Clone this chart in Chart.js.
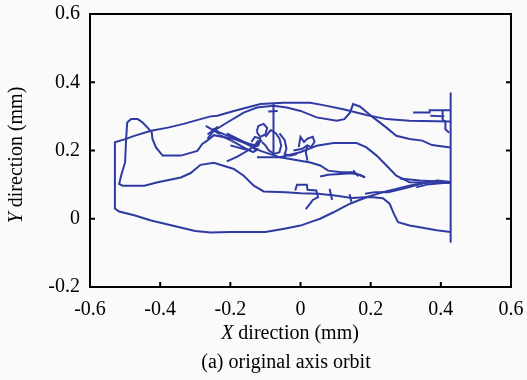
<!DOCTYPE html>
<html>
<head>
<meta charset="utf-8">
<title>original axis orbit</title>
<script src="https://cdn.jsdelivr.net/npm/chart.js@4.4.0/dist/chart.umd.min.js"></script>
<style>
    html, body { margin: 0; padding: 0; background: #fafafa; }
    #wrap { width: 527px; height: 380px; position: relative; }
</style>
</head>
<body>
<div id="wrap"><canvas id="orbitChart"></canvas></div>
<script>
// axis ticks
const xTicks = ['-0.6', '-0.4', '-0.2', '0', '0.2', '0.4', '0.6'];
const yTicks = ['-0.2', '0', '0.2', '0.4', '0.6'];

// orbit traces, [x, y] in mm
const outerLoop = [[0.428,0.107],[0.36,0.107],[0.31,0.097],[0.235,0.078],[0.188,0.063],[0.141,0.044],[0.094,0.019],[0.056,0.0],[0.028,-0.01],[0.0,-0.02],[-0.05,-0.03],[-0.10,-0.039],[-0.20,-0.039],[-0.256,-0.040],[-0.30,-0.036],[-0.333,-0.028],[-0.378,-0.017],[-0.426,-0.005],[-0.474,0.010],[-0.517,0.021],[-0.529,0.030],[-0.529,0.224],[-0.497,0.234],[-0.474,0.243],[-0.426,0.258],[-0.378,0.267],[-0.333,0.278],[-0.285,0.292],[-0.256,0.300],[-0.237,0.302],[-0.19,0.316],[-0.114,0.336],[-0.048,0.340],[0.027,0.340],[0.065,0.333],[0.122,0.321],[0.188,0.304],[0.245,0.292],[0.311,0.287],[0.428,0.285]];
const innerLoop = [[0.428,-0.039],[0.388,-0.034],[0.340,-0.025],[0.311,-0.020],[0.278,-0.010],[0.266,0.015],[0.254,0.044],[0.235,0.060],[0.20,0.064],[0.146,0.061],[0.098,0.068],[0.051,0.073],[0.0,0.075],[-0.043,0.078],[-0.105,0.080],[-0.133,0.097],[-0.162,0.126],[-0.19,0.146],[-0.247,0.164],[-0.285,0.158],[-0.313,0.134],[-0.341,0.121],[-0.407,0.107],[-0.445,0.097],[-0.507,0.097],[-0.517,0.102],[-0.510,0.131],[-0.500,0.165],[-0.497,0.234],[-0.494,0.282],[-0.483,0.292],[-0.464,0.292],[-0.450,0.282],[-0.436,0.267],[-0.424,0.253],[-0.422,0.234],[-0.412,0.209],[-0.393,0.185],[-0.341,0.185],[-0.294,0.199],[-0.280,0.219],[-0.266,0.229],[-0.247,0.245],[-0.19,0.234],[-0.152,0.219],[-0.114,0.199],[-0.058,0.180],[-0.001,0.170],[0.028,0.165],[0.056,0.156],[0.079,0.141],[0.117,0.136],[0.146,0.136],[0.174,0.126],[0.184,0.121]];
const upperSweep = [[-0.265,0.235],[-0.247,0.258],[-0.209,0.282],[-0.162,0.311],[-0.124,0.326],[-0.077,0.331],[-0.039,0.326],[0.0,0.316],[0.046,0.297],[0.103,0.287],[0.125,0.292],[0.141,0.311],[0.150,0.336],[0.169,0.329],[0.207,0.297],[0.245,0.267],[0.273,0.243],[0.311,0.234],[0.347,0.229],[0.375,0.216],[0.428,0.209]];
const middleSweep = [[-0.124,0.180],[-0.058,0.180],[-0.001,0.195],[0.046,0.214],[0.094,0.222],[0.160,0.222],[0.188,0.209],[0.217,0.185],[0.245,0.156],[0.273,0.126],[0.311,0.107],[0.428,0.105]];
const convergeA = [[0.428,0.108],[0.39,0.112],[0.35,0.104],[0.30,0.090],[0.25,0.078],[0.212,0.078],[0.184,0.073]];
const convergeB = [[0.283,0.118],[0.34,0.112],[0.38,0.110],[0.40,0.104],[0.36,0.100],[0.33,0.092]];
const rightEdge = [[0.428,-0.07],[0.428,0.37]];
const hookA = [[0.321,0.311],[0.368,0.311],[0.368,0.318],[0.428,0.318]];
const hookB = [[0.405,0.318],[0.405,0.29],[0.413,0.285],[0.413,0.262],[0.424,0.252]];
const hookC = [[0.37,0.302],[0.41,0.300]];
const tangle = [
    [[-0.27,0.272],[-0.23,0.248]],
    [[-0.265,0.247],[-0.235,0.27]],
    [[-0.25,0.264],[-0.233,0.254],[-0.185,0.234],[-0.147,0.22],[-0.128,0.215],[-0.11,0.23]],
    [[-0.23,0.245],[-0.19,0.225],[-0.155,0.205],[-0.135,0.195],[-0.12,0.205]],
    [[-0.21,0.25],[-0.17,0.23],[-0.14,0.212],[-0.125,0.2]],
    [[-0.2,0.215],[-0.165,0.205],[-0.14,0.2]],
    [[-0.21,0.168],[-0.18,0.182],[-0.15,0.2],[-0.13,0.215],[-0.12,0.23]],
    [[-0.14,0.225],[-0.13,0.24],[-0.115,0.235],[-0.12,0.215],[-0.135,0.21]],
    [[-0.125,0.255],[-0.12,0.272],[-0.105,0.278],[-0.095,0.266],[-0.1,0.247],[-0.115,0.24],[-0.125,0.255]],
    [[-0.077,0.336],[-0.077,0.19]],
    [[-0.092,0.314],[-0.065,0.316]],
    [[-0.1,0.24],[-0.085,0.26],[-0.07,0.25],[-0.06,0.235],[-0.055,0.215],[-0.06,0.195],[-0.075,0.19],[-0.09,0.2],[-0.1,0.215],[-0.11,0.225]],
    [[-0.06,0.25],[-0.045,0.23],[-0.04,0.205],[-0.045,0.19],[-0.03,0.185],[-0.01,0.19]],
    [[-0.005,0.21],[0.0,0.24],[0.01,0.225],[0.02,0.235],[0.035,0.24],[0.04,0.225],[0.03,0.21],[0.02,0.215],[0.015,0.195],[0.02,0.17]],
    [[-0.02,0.2],[0.005,0.205],[0.02,0.215]]
];
const lowerBits = [
    [[-0.015,0.083],[-0.01,0.100],[0.018,0.100],[0.02,0.085],[0.045,0.083],[0.05,0.063],[0.035,0.055],[0.028,0.045],[0.015,0.028]],
    [[0.083,0.088],[0.09,0.055]],
    [[0.14,0.072],[0.145,0.05]],
    [[0.056,0.124],[0.079,0.129],[0.146,0.133],[0.17,0.128],[0.184,0.121]],
    [[0.15,0.142],[0.165,0.124]]
];

const lineColor = '#2f3aa3';
const serif = '"Liberation Serif", "Times New Roman", serif';

const allPaths = [outerLoop, innerLoop, upperSweep, middleSweep, convergeA, convergeB, rightEdge, hookA, hookB, hookC]
    .concat(tangle, lowerBits);

// frame, inward ticks and the mixed italic titles
const framePlugin = {
    id: 'frame',
    afterDraw(chart) {
        const ctx = chart.ctx;
        const a = chart.chartArea;
        const sx = chart.scales.x, sy = chart.scales.y;
        ctx.save();
        ctx.strokeStyle = '#000';
        ctx.lineWidth = 2;
        ctx.strokeRect(a.left, a.top, a.right - a.left, a.bottom - a.top);
        ctx.beginPath();
        sx.ticks.forEach(t => {
            const px = sx.getPixelForValue(t.value);
            if (px > a.left + 2 && px < a.right - 2) {
                ctx.moveTo(px, a.bottom);
                ctx.lineTo(px, a.bottom - 5);
            }
        });
        sy.ticks.forEach(t => {
            const py = sy.getPixelForValue(t.value);
            if (py > a.top + 2 && py < a.bottom - 2) {
                ctx.moveTo(a.left, py);
                ctx.lineTo(a.left + 5, py);
                ctx.moveTo(a.right, py);
                ctx.lineTo(a.right - 5, py);
            }
        });
        ctx.stroke();

        ctx.fillStyle = '#000';
        ctx.textBaseline = 'alphabetic';
        ctx.textAlign = 'left';
        function mixed(italicPart, rest, cx, baseY) {
            ctx.font = 'italic 20px ' + serif;
            const w1 = ctx.measureText(italicPart).width;
            ctx.font = '20px ' + serif;
            const w2 = ctx.measureText(rest).width;
            const x0 = cx - (w1 + w2) / 2;
            ctx.font = 'italic 20px ' + serif;
            ctx.fillText(italicPart, x0, baseY);
            ctx.font = '20px ' + serif;
            ctx.fillText(rest, x0 + w1, baseY);
        }
        mixed('X', ' direction (mm)', 290, 339);

        ctx.save();
        ctx.translate(22, 155);
        ctx.rotate(-Math.PI / 2);
        mixed('Y', ' direction (mm)', 0, 0);
        ctx.restore();

        ctx.font = '20px ' + serif;
        ctx.textAlign = 'center';
        ctx.fillText('(a) original axis orbit', 286, 368);
        ctx.restore();
    }
};

function initOrbitChart() {
    const ctx = document.getElementById('orbitChart').getContext('2d');
    const orbitChart = new Chart(ctx, {
        type: 'scatter',
        data: {
            datasets: allPaths.map(p => ({
                data: p.map(pt => ({ x: pt[0], y: pt[1] })),
                showLine: true,
                borderColor: lineColor,
                borderWidth: 2,
                pointRadius: 0,
                fill: false,
                tension: 0
            }))
        },
        options: {
            responsive: true,
            maintainAspectRatio: false,
            animation: false,
            layout: { padding: { left: 0, right: 16, top: 14, bottom: 0 } },
            plugins: { legend: { display: false }, tooltip: { enabled: false } },
            scales: {
                x: {
                    type: 'linear', min: -0.6, max: 0.6,
                    grid: { display: false, drawTicks: false },
                    border: { display: false },
                    ticks: {
                        stepSize: 0.2, autoSkip: false, maxRotation: 0, padding: 11,
                        color: '#000', font: { family: serif, size: 20 },
                        callback: (v, i) => xTicks[i]
                    },
                    afterFit: s => { s.height = 93; s.paddingLeft = 0; s.paddingRight = 0; }
                },
                y: {
                    type: 'linear', min: -0.2, max: 0.6,
                    grid: { display: false, drawTicks: false },
                    border: { display: false },
                    ticks: {
                        stepSize: 0.2, autoSkip: false, padding: 10,
                        color: '#000', font: { family: serif, size: 20 },
                        callback: (v, i) => yTicks[i]
                    },
                    afterFit: s => { s.width = 90; s.paddingTop = 0; s.paddingBottom = 0; }
                }
            }
        },
        plugins: [framePlugin]
    });
}

window.onload = () => {
    initOrbitChart();
};
</script>
</body>
</html>
